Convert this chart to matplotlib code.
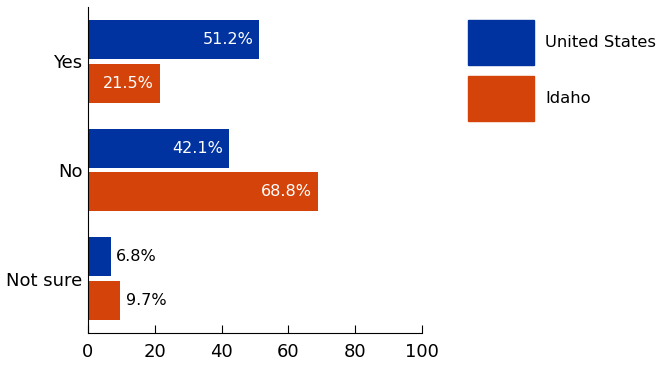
import matplotlib
matplotlib.use("Agg")
import matplotlib.pyplot as plt
from matplotlib.patches import Patch

plt.rcParams['font.family'] = ['DejaVu Sans']

categories = ["Yes", "No", "Not sure"]
us_values = [51.2, 42.1, 6.8]
idaho_values = [21.5, 68.8, 9.7]
series_names = ["United States", "Idaho"]
x_ticks = [0, 20, 40, 60, 80, 100]

blue = "#0033a0"
orange = "#d4440a"

fig = plt.figure(figsize=(6.6, 3.65), dpi=100)
ax = fig.add_axes([0.1333, 0.0877, 0.5061, 0.8931])

pos = list(range(len(categories)))
h = 0.36
off = 0.2
us_y = [p - off for p in pos]
id_y = [p + off for p in pos]
ax.barh(us_y, us_values, height=h, color=blue)
ax.barh(id_y, idaho_values, height=h, color=orange)

# labels: white inside long bars, black outside short ones
for ys, vals in [(us_y, us_values), (id_y, idaho_values)]:
    for y, v in zip(ys, vals):
        if v > 15:
            ax.annotate(f"{v}%", (v, y), xytext=(-4, 0), textcoords="offset points",
                        ha="right", va="center", color="white", fontsize=11.5)
        else:
            ax.annotate(f"{v}%", (v, y), xytext=(4, 0), textcoords="offset points",
                        ha="left", va="center", color="black", fontsize=11.5)

ax.set_ylim(2.5, -0.5)
ax.set_xlim(0, 100)
ax.set_yticks(pos)
ax.set_yticklabels(categories, fontsize=13)
ax.set_xticks(x_ticks)
ax.tick_params(axis="x", direction="in", length=6, pad=7, labelsize=13)
ax.tick_params(axis="y", length=0, pad=4)
for s in ["top", "right"]:
    ax.spines[s].set_visible(False)

handles = [Patch(color=blue), Patch(color=orange)]
fig.legend(handles, series_names, loc="upper left", bbox_to_anchor=(0.709, 0.945),
           frameon=False, fontsize=11.8, handlelength=4.03, handleheight=3.85,
           labelspacing=0.67, handletextpad=0.67, borderpad=0, borderaxespad=0)

fig.savefig("out.png", dpi=100)
